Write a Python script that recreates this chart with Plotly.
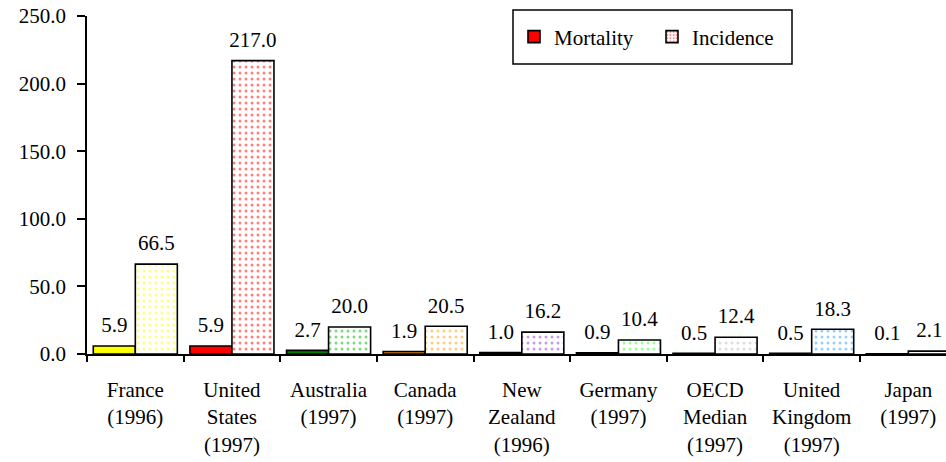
import plotly.graph_objects as go

categories = ["France<br>(1996)", "United<br>States<br>(1997)", "Australia<br>(1997)",
              "Canada<br>(1997)", "New<br>Zealand<br>(1996)", "Germany<br>(1997)",
              "OECD<br>Median<br>(1997)", "United<br>Kingdom<br>(1997)", "Japan<br>(1997)"]
mortality = [5.9, 5.9, 2.7, 1.9, 1.0, 0.9, 0.5, 0.5, 0.1]
incidence = [66.5, 217.0, 20.0, 20.5, 16.2, 10.4, 12.4, 18.3, 2.1]

mort_colors = ["#FFFF00", "#FF0000", "#008000", "#D98200", "#9933CC",
               "#33CC33", "#999999", "#3399FF", "#CCCCCC"]
inc_colors = ["#FFFF00", "#FF0000", "#00B000", "#FF9900", "#9933CC",
              "#33FF33", "#BBBBBB", "#3399FF", "#CCCCCC"]

FONT = "Liberation Serif, Times New Roman, serif"
FS = 21

fig = go.Figure()
fig.add_trace(go.Bar(
    x=categories, y=mortality, name="Mortality", showlegend=False,
    marker=dict(color=mort_colors, line=dict(color="black", width=1.6)),
    hoverinfo="x+y",
))
fig.add_trace(go.Bar(
    x=categories, y=incidence, name="Incidence", showlegend=False,
    marker=dict(color="white", line=dict(color="black", width=1.6),
                pattern=dict(shape=".", fgcolor=inc_colors, bgcolor="white",
                             size=6, solidity=0.2, fillmode="overlay")),
    hoverinfo="x+y",
))
# value labels, grouped like the bars
for vals in (mortality, incidence):
    fig.add_trace(go.Scatter(
        x=categories, y=vals, mode="markers+text", showlegend=False,
        text=[f"{v:.1f}" for v in vals], textposition="top center",
        marker=dict(size=12, color="rgba(0,0,0,0)"), cliponaxis=False,
        textfont=dict(family=FONT, size=FS, color="black"), hoverinfo="skip",
    ))
# legend-only entries
fig.add_trace(go.Bar(x=[0], y=[0], name="Mortality", xaxis="x2", yaxis="y2",
                     marker=dict(color="#FF0000", line=dict(color="black", width=1.6)),
                     hoverinfo="skip"))
fig.add_trace(go.Bar(x=[0], y=[0], name="Incidence", xaxis="x2", yaxis="y2",
                     marker=dict(color="white", line=dict(color="black", width=1.6),
                                 pattern=dict(shape=".", fgcolor="#FF0000", bgcolor="white",
                                              size=4, solidity=0.3)),
                     hoverinfo="skip"))

fig.update_layout(
    width=946, height=462,
    margin=dict(l=87, r=0, t=16, b=107.5, pad=0, autoexpand=False),
    paper_bgcolor="white", plot_bgcolor="white",
    font=dict(family=FONT, size=FS, color="black"),
    barmode="group", bargap=0.13, bargroupgap=0,
    scattermode="group", scattergap=0.13,
    showlegend=True,
    legend=dict(orientation="h", x=(514 - 87) / 859, xanchor="left",
                y=(354.5 - 37) / 338.5, yanchor="middle", entrywidth=93,
                bgcolor="rgba(0,0,0,0)", borderwidth=0,
                font=dict(family=FONT, size=FS, color="black")),
    xaxis=dict(range=[-0.5, 8.39], showline=True, linecolor="black", linewidth=1.5,
               ticks="outside", tickson="boundaries", ticklen=6, tickcolor="black",
               tickwidth=1.5, showgrid=False, tickangle=0, ticklabelstandoff=16,
               automargin=False),
    yaxis=dict(range=[0, 250], dtick=50, tickformat=".1f", showline=True,
               linecolor="black", linewidth=1.5, ticks="outside", ticklen=8,
               tickcolor="black", tickwidth=1.5, showgrid=False, zeroline=False,
               ticklabelstandoff=7, automargin=False),
    xaxis2=dict(overlaying="x", visible=False, range=[5, 6]),
    yaxis2=dict(overlaying="y", visible=False, range=[10, 20]),
    shapes=[dict(type="rect", xref="paper", yref="paper",
                 x0=(513 - 87) / 859, x1=(792 - 87) / 859,
                 y0=(354.5 - 64) / 338.5, y1=(354.5 - 10) / 338.5,
                 line=dict(color="black", width=1.5), fillcolor="rgba(0,0,0,0)")],
)

fig.write_html("out.html", config={"displayModeBar": False},
               post_script="document.body.style.margin='0';document.body.style.overflow='hidden';")
